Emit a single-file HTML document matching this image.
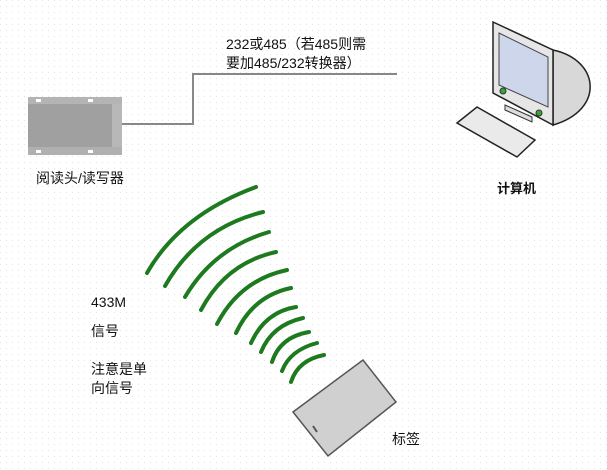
<!DOCTYPE html>
<html><head><meta charset="utf-8"><style>
html,body{margin:0;padding:0;background:#fff;}
body{width:607px;height:470px;position:relative;overflow:hidden;font-family:"Liberation Sans","Noto Sans CJK SC",sans-serif;}
.t{position:absolute;font-size:14px;color:#111;line-height:17px;white-space:nowrap;}
svg{position:absolute;left:0;top:0;}
</style></head><body>
<svg width="607" height="470" viewBox="0 0 607 470">
<defs>
<pattern id="dots" width="6" height="6" patternUnits="userSpaceOnUse"><rect width="6" height="6" fill="#fff"/><rect x="0" y="0" width="1" height="1" fill="#e4e4e4"/></pattern>
</defs>
<rect width="607" height="470" fill="url(#dots)"/>
<!-- reader -->
<rect x="28" y="97" width="94" height="58" fill="#a0a0a0"/>
<rect x="28" y="97" width="94" height="7" fill="#b4b4b4"/>
<rect x="28" y="147" width="94" height="8" fill="#b0b0b0"/>
<rect x="112" y="104" width="10" height="43" fill="#b8b8b8"/>
<rect x="36" y="99" width="5" height="3" fill="#fff"/><rect x="88" y="99" width="5" height="3" fill="#fff"/>
<rect x="36" y="150" width="5" height="3" fill="#fff"/><rect x="88" y="150" width="5" height="3" fill="#fff"/>
<!-- cable -->
<polyline points="122,124 193,124 193,74 397,74" fill="none" stroke="#888" stroke-width="2"/>
<!-- computer -->
<path d="M553,50 C600,60 605,110 553,125 Z" fill="#d8d8d8" stroke="#222" stroke-width="1.5"/>
<path d="M493,22 L553,50 L553,125 L493,93 Z" fill="#e6e6e6" stroke="#222" stroke-width="1.5"/>
<path d="M499,33 L548,57 L548,107 L499,85 Z" fill="#cdd6ea" stroke="#444"/>
<circle cx="503" cy="91" r="3" fill="#3a3" stroke="#333"/>
<circle cx="539" cy="113" r="3" fill="#3a3" stroke="#333"/>
<path d="M505,105 L532,117 L532,122 L505,110 Z" fill="#ddd" stroke="#333"/>
<path d="M457,123 L477,107 L535,140 L517,157 Z" fill="#eaeaea" stroke="#222" stroke-width="1.5"/>
<!-- waves -->
<g fill="none" stroke="#1e7a1e" stroke-width="4" stroke-linecap="round">
<path d="M147,273 Q180,215 256,187"/>
<path d="M165,286 Q198,228 263,212"/>
<path d="M185,297 Q214,248 269,232"/>
<path d="M201,310 Q226,263 276,252"/>
<path d="M217,324 Q240,280 287,270"/>
<path d="M236,333 Q253,296 291,288"/>
<path d="M251,343 Q265,312 296,307"/>
<path d="M261,352 Q272,325 303,318"/>
<path d="M272,362 Q280,337 309,332"/>
<path d="M282,371 Q290,350 317,343"/>
<path d="M291,382 Q298,360 324,355"/>
</g>
<!-- tag -->
<path d="M293,412 L363,360 L396,402 L328,456 Z" fill="#d0d0d0" stroke="#555" stroke-width="1.5"/>
<line x1="313" y1="426" x2="317" y2="432" stroke="#555" stroke-width="2"/>
</svg>
<div class="t" style="left:226px;top:36px;">232或485（若485则需</div>
<div class="t" style="left:226px;top:55px;">要加485/232转换器）</div>
<div class="t" style="left:36px;top:170px;">阅读头/读写器</div>
<div class="t" style="left:497px;top:180px;font-size:13px;font-weight:bold;">计算机</div>
<div class="t" style="left:91px;top:294px;">433M</div>
<div class="t" style="left:91px;top:323px;">信号</div>
<div class="t" style="left:91px;top:361px;">注意是单</div>
<div class="t" style="left:91px;top:380px;">向信号</div>
<div class="t" style="left:392px;top:431px;">标签</div>
</body></html>
